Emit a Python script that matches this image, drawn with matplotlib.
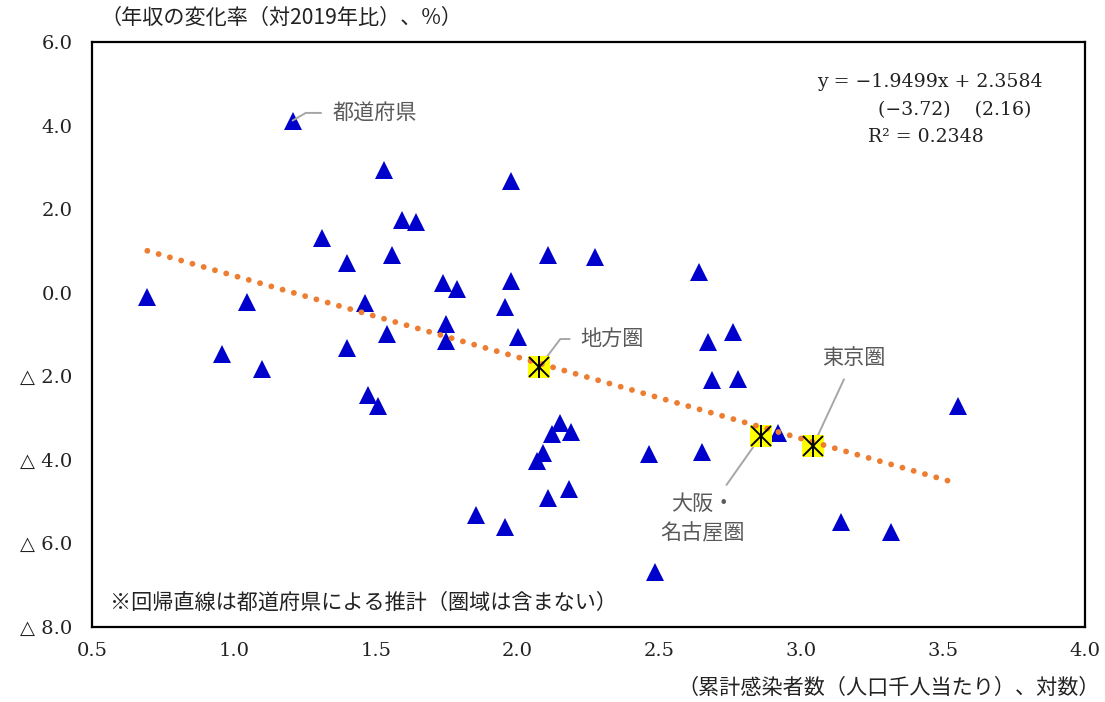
import matplotlib
matplotlib.use("Agg")
import matplotlib.pyplot as plt
import numpy as np

# 都道府県: 累計感染者数（対数）と年収の変化率
pref_x = [1.207, 1.530, 1.594, 1.641, 1.311, 1.556, 1.398, 1.738, 1.785, 0.695,
          1.045, 1.461, 1.748, 1.539, 1.748, 1.400, 0.958, 1.099, 1.474, 1.508,
          1.976, 2.109, 2.273, 2.640, 1.976, 1.957, 2.000, 2.761, 2.670, 2.684,
          2.778, 3.551, 2.462, 2.649, 2.917, 3.141, 3.315, 2.150, 2.120, 2.188,
          2.091, 2.067, 2.180, 2.109, 1.852, 1.954, 2.485]
pref_y = [4.12, 2.94, 1.74, 1.70, 1.32, 0.90, 0.72, 0.23, 0.08, -0.10,
          -0.22, -0.24, -0.76, -0.99, -1.15, -1.32, -1.46, -1.83, -2.45, -2.71,
          2.68, 0.90, 0.85, 0.50, 0.29, -0.35, -1.05, -0.93, -1.19, -2.09,
          -2.07, -2.70, -3.86, -3.81, -3.35, -5.48, -5.73, -3.11, -3.39, -3.34,
          -3.84, -4.02, -4.70, -4.92, -5.33, -5.61, -6.69]

# 圏域
region_names = ["地方圏", "大阪・\n名古屋圏", "東京圏"]
region_x = [2.076, 2.858, 3.041]
region_y = [-1.78, -3.43, -3.67]

# 回帰式 y = a x + b
slope = -1.9499
intercept = 2.3584
t_slope = -3.72
t_intercept = 2.16
r2 = 0.2348

xticks = [0.5, 1.0, 1.5, 2.0, 2.5, 3.0, 3.5, 4.0]
yticks = [6.0, 4.0, 2.0, 0.0, -2.0, -4.0, -6.0, -8.0]

num_font = ["DejaVu Serif", "Noto Sans CJK JP"]
jp_font = ["Noto Sans CJK JP", "DejaVu Sans"]
jp_size = 15.2
gray_text = "#595959"
gray_line = "#A6A6A6"


def fmt_tick(v):
    # マイナスは△で表記
    if v < 0:
        return "△ {:.1f}".format(-v)
    return "{:.1f}".format(v)


fig = plt.figure(figsize=(11.05, 7.02), dpi=100)
ax = fig.add_axes([92 / 1105, 1 - 627 / 702, 993 / 1105, 585 / 702])

ax.plot(pref_x, pref_y, linestyle="none", marker="^", markersize=13,
        color="#0000CC", markeredgewidth=0, zorder=3)

# 回帰直線（都道府県の範囲）
lx = np.array([min(pref_x), max(pref_x)])
ax.plot(lx, slope * lx + intercept, color="#ED7D31", linewidth=4.2,
        linestyle=(0, (0.01, 2.0)), dash_capstyle="round", zorder=5)

ax.plot(region_x, region_y, linestyle="none", marker="s", markersize=16,
        color="#FFFF00", markeredgewidth=0, zorder=4)
ax.plot(region_x, region_y, linestyle="none", marker="x", markersize=15,
        color="black", markeredgewidth=1.4, zorder=6)
ax.plot(region_x, region_y, linestyle="none", marker="|", markersize=16,
        color="black", markeredgewidth=1.4, zorder=6)

ax.set_xlim(0.5, 4.0)
ax.set_ylim(-8.0, 6.0)
ax.set_xticks(xticks)
ax.set_yticks(yticks)
ax.set_xticklabels([f"{v:.1f}" for v in xticks], fontsize=14, family=num_font)
ax.set_yticklabels([fmt_tick(v) for v in yticks], fontsize=14, family=num_font)
ax.tick_params(axis="both", length=0, colors="#222222")
ax.tick_params(axis="x", pad=11)
ax.tick_params(axis="y", pad=14)
for s in ax.spines.values():
    s.set_linewidth(1.6)
    s.set_color("black")

# 注記
lead = dict(arrowstyle="-", color=gray_line, linewidth=1.4)
ax.annotate("都道府県", xy=(pref_x[0], pref_y[0]), xytext=(28.5, 5.5),
            textcoords="offset points", ha="left", va="center", fontsize=jp_size,
            family=jp_font, color=gray_text,
            arrowprops=dict(lead, shrinkA=6, shrinkB=0,
                            connectionstyle="angle,angleA=0,angleB=30,rad=0"))
ax.annotate(region_names[0], xy=(region_x[0], region_y[0]), xytext=(30, 20.2),
            textcoords="offset points", ha="left", va="center", fontsize=jp_size,
            family=jp_font, color=gray_text,
            arrowprops=dict(lead, shrinkA=6, shrinkB=0,
                            connectionstyle="angle,angleA=0,angleB=53,rad=0"))
ax.annotate(region_names[1], xy=(region_x[1], region_y[1]), xytext=(-42, -59.5),
            textcoords="offset points", ha="center", va="center", fontsize=jp_size,
            family=jp_font, color=gray_text, linespacing=1.4,
            arrowprops=dict(lead, shrinkA=5, shrinkB=0))
ax.annotate(region_names[2], xy=(region_x[2], region_y[2]), xytext=(29.5, 63.4),
            textcoords="offset points", ha="center", va="center", fontsize=jp_size,
            family=jp_font, color=gray_text,
            arrowprops=dict(lead, shrinkA=6, shrinkB=0))

# 回帰式
eq_kw = dict(transform=ax.transAxes, fontsize=13.6, family=num_font,
             color="#222222", va="center", ha="left")
ax.text((817 - 92) / 993, (627 - 82) / 585,
        f"y = {slope:.4f}x + {intercept:.4f}".replace("-", "\u2212"), **eq_kw)
ax.text((878 - 92) / 993, (627 - 110) / 585,
        f"({t_slope:.2f})    ({t_intercept:.2f})".replace("-", "\u2212"), **eq_kw)
ax.text((868 - 92) / 993, (627 - 137) / 585, f"R\u00b2 = {r2:.4f}", **eq_kw)

ax.text((110 - 92) / 993, (627 - 603) / 585,
        "※回帰直線は都道府県による推計（圏域は含まない）",
        transform=ax.transAxes, fontsize=jp_size, family=jp_font,
        color="#222222", ha="left", va="center")

fig.text(100 / 1105, 1 - 18 / 702, "（年収の変化率（対2019年比）、%）",
         fontsize=jp_size, family=jp_font, color="#222222", ha="left", va="center")
fig.text(1100 / 1105, 1 - 688 / 702, "（累計感染者数（人口千人当たり）、対数）",
         fontsize=jp_size, family=jp_font, color="#222222", ha="right", va="center")

fig.savefig("out.png", dpi=100)
